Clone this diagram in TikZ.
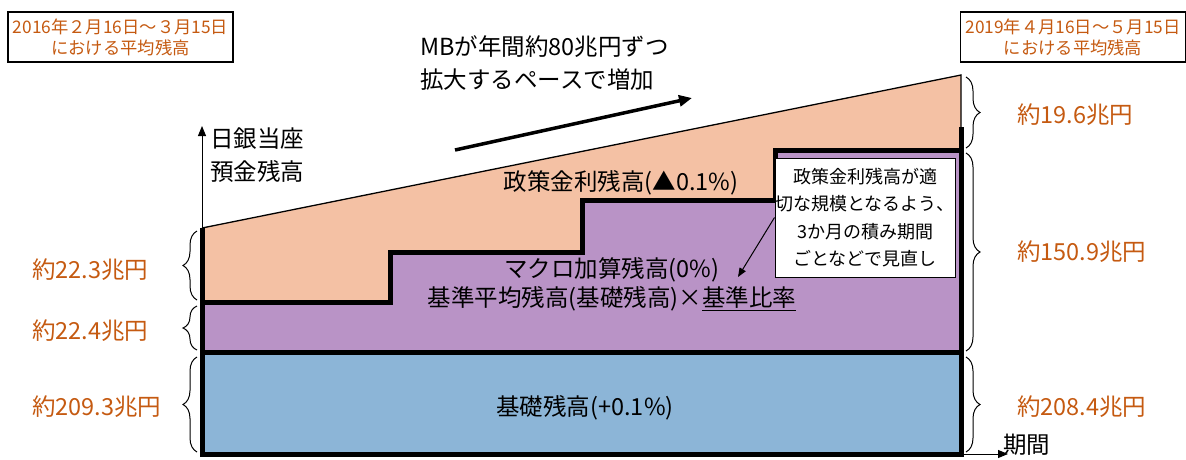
\documentclass[tikz,border=0pt]{standalone}
\usepackage{fontspec}
\setmainfont{Noto Sans CJK JP}
\usetikzlibrary{arrows.meta,decorations.pathreplacing}
\definecolor{peach}{RGB}{244,193,164}
\definecolor{lilac}{RGB}{185,147,198}
\definecolor{skyb}{RGB}{140,181,215}
\definecolor{rust}{RGB}{197,90,17}
\tikzset{
  heavy/.style={line width=5pt},
  slim/.style={line width=1.3pt},
  axisarrow/.style={line width=1pt,-{Triangle[length=10pt,width=8pt]}},
  bigarrow/.style={line width=3.5pt,-{Triangle[length=13pt,width=11pt]}},
  pointer/.style={line width=1pt,-{Triangle[length=9pt,width=7pt]}},
  bracel/.style={decorate,decoration={brace,amplitude=14pt},line width=1pt},
  amount/.style={text=rust,font=\fontsize{23.5}{28}\selectfont,anchor=west,inner sep=0pt},
  datebox/.style={draw,line width=1.5pt,text=rust,align=center,minimum width=225pt,minimum height=50pt,inner sep=0pt,font=\fontsize{17.3}{21}\selectfont},
  bigtext/.style={font=\fontsize{23.5}{33}\selectfont,inner sep=0pt},
  midtext/.style={font=\fontsize{23.5}{29}\selectfont,inner sep=0pt,align=center},
  callout/.style={draw,fill=white,line width=1pt,text width=180pt,align=center,minimum height=119pt,inner xsep=0pt,font=\fontsize{18}{27.5}\selectfont}
}
\begin{document}
\begin{tikzpicture}[x=1pt,y=-1pt]
\useasboundingbox (0,0) rectangle (1186,459);
% areas
\fill[peach] (202,228) -- (961,75) -- (961,150) -- (775,150) -- (775,200) -- (582,200) -- (582,252) -- (390,252) -- (390,302) -- (202,302) -- cycle;
\fill[lilac] (202,302) -- (390,302) -- (390,252) -- (582,252) -- (582,200) -- (775,200) -- (775,150) -- (961,150) -- (961,352) -- (202,352) -- cycle;
\fill[skyb] (202,352) rectangle (961,454);
% outlines
\draw[slim] (202,228) -- (961,75) -- (961,127);
\draw[heavy] (202,302) -- (390,302) -- (390,252) -- (582,252) -- (582,200) -- (775,200) -- (775,150) -- (961,150);
\draw[heavy] (202,352) -- (961,352);
\draw[heavy] (202,228) -- (202,454) -- (961,454) -- (961,127);
% axes
\coordinate (yorig) at (202,228);
\coordinate (ytop) at (202,126);
\coordinate (xorig) at (963,454);
\coordinate (xend) at (1008,454);
\draw[axisarrow] (yorig) -- (ytop);
\draw[axisarrow] (xorig) -- (xend);
\node[bigtext,anchor=west,align=left] (ylab) at (210,155) {日銀当座\\預金残高};
\node[bigtext,anchor=west] (xlab) at (1003,445) {期間};
% braces left
\draw[bracel] (197,300) -- (197,231);
\draw[bracel] (197,350) -- (197,306);
\draw[bracel] (197,452) -- (197,357);
% braces right
\draw[bracel] (966,77) -- (966,148);
\draw[bracel] (966,153) -- (966,351);
\draw[bracel] (966,357) -- (966,452);
% amounts
\node[amount] (a1) at (32,270) {約22.3兆円};
\node[amount] (a2) at (32,331) {約22.4兆円};
\node[amount] (a3) at (32,407) {約209.3兆円};
\node[amount] (b1) at (1017,115) {約19.6兆円};
\node[amount] (b2) at (1017,252) {約150.9兆円};
\node[amount] (b3) at (1017,407) {約208.4兆円};
% date boxes
\node[datebox] (d1) at (120.5,37) {2016年２月16日～３月15日\\における平均残高};
\node[datebox] (d2) at (1073,37) {2019年４月16日～５月15日\\における平均残高};
% growth
\node[bigtext,anchor=west,align=left] (mb) at (420,63.5) {MBが年間約80兆円ずつ\\拡大するペースで増加};
\coordinate (g1) at (455,150);
\coordinate (g2) at (692,98);
\draw[bigarrow] (g1) -- (g2);
% layer labels
\node[midtext] (policy) at (621,183) {政策金利残高(▲0.1\%)};
\node[midtext] (macro) at (612,284.5) {マクロ加算残高(0\%)\\基準平均残高(基礎残高)×\underline{基準比率}};
\node[midtext] (base) at (585,408) {基礎残高(+0.1\%)};
% callout
\node[callout] (note) at (865,217.5) {政策金利残高が適\\切な規模となるよう、\\3か月の積み期間\\ごとなどで見直し};
\coordinate (tip) at (738,277);
\draw[pointer] (note.west) -- (tip);
\end{tikzpicture}
\end{document}
